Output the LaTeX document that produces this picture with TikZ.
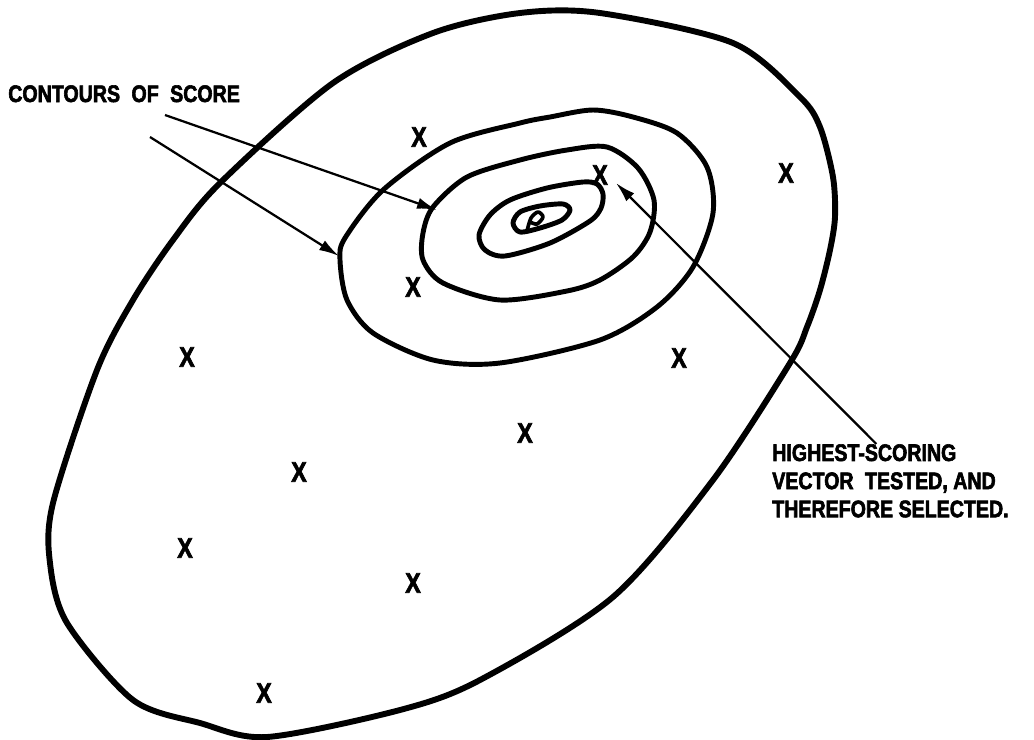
\documentclass[tikz,border=0pt]{standalone}
\usepackage{fontspec}
\newfontfamily\lettering[FakeStretch=0.82,FakeBold=2.5]{Liberation Sans}
\newcommand\letterfont{\lettering\bfseries\fontsize{17}{20}\selectfont}
\newcommand\gap{\hspace{0.25em}}
\usetikzlibrary{arrows.meta}

\begin{document}
\begin{tikzpicture}[
  x=0.025cm, y=-0.025cm,
  rim/.style={line width=4.2pt, line join=round},
  contour/.style={line width=3.5pt, line join=round},
  arr/.style={-{Latex[length=5mm,width=2.8mm]}, line width=1.6pt},
  every node/.style={inner sep=0pt, font=\letterfont},
  pt/.style={font=\lettering\bfseries\fontsize{20}{22}\selectfont}
]
\useasboundingbox (0,0) rectangle (1034,739);

\draw[rim] plot[smooth cycle] coordinates {
  (520,13) (600,13) (733,43) (800,97) (820,127) (833,177) (835,217) (830,250)
  (820,290) (807,327) (790,363) (713,480) (613,597) (480,680) (400,710)
  (267,737) (200,723) (133,700) (67,623) (50,563) (53,503) (97,370)
  (133,300) (173,240) (220,183) (333,83) (433,33)};

\draw[contour] plot[smooth cycle] coordinates {
  (520,123) (550,117) (593,110) (633,117) (677,133) (707,167) (713,213)
  (693,267) (657,307) (600,340) (500,363) (433,360) (373,333) (347,300)
  (340,260) (345,238) (383,190) (450,143)};

\draw[contour] plot[smooth cycle] coordinates {
  (520,160) (567,150) (607,147) (638,168) (654,200) (650,232) (633,257)
  (600,280) (567,291) (500,300) (443,283) (423,260) (423,233) (433,207) (467,177)};

\draw[contour] plot[smooth cycle] coordinates {
  (479,235) (490,215) (510,200) (547,188) (583,182) (597,184) (603,194)
  (601,208) (590,221) (550,243) (505,256) (485,250)};

\draw[contour] plot[smooth cycle] coordinates {
  (513,223) (520,212) (540,206) (563,204) (570,210) (562,220) (540,228) (520,232)};

\draw[contour, line width=2.6pt] plot[smooth] coordinates {
  (527,231) (531,218) (538,212) (543,217) (537,224) (530,222)};

\node (contours) [anchor=base west] at (8,102) {CONTOURS\gap{} OF\gap{} SCORE};
\node (highest) [anchor=north west, align=left] at (772,444)
  {HIGHEST-SCORING\\VECTOR\gap{} TESTED, AND\\THEREFORE SELECTED.};

\node[pt] (best) at (600,175) {X};
\node[pt] (xa) at (419,137) {X};
\node[pt] (xb) at (413,287) {X};
\node[pt] (xc) at (786,173) {X};
\node[pt] (xd) at (187,357) {X};
\node[pt] (xe) at (679,358) {X};
\node[pt] (xf) at (525,433) {X};
\node[pt] (xg) at (299,472) {X};
\node[pt] (xh) at (185,548) {X};
\node[pt] (xi) at (413,583) {X};
\node[pt] (xj) at (264,693) {X};

\coordinate (startA) at (165,115);
\coordinate (tipA) at (437,210);
\coordinate (startB) at (150,137);
\coordinate (tipB) at (339,256);
\coordinate (tipC) at (616,183);

\draw[arr] (startA) -- (tipA);
\draw[arr] (startB) -- (tipB);
\draw[arr] ([xshift=-10]highest.north) -- (tipC);
\end{tikzpicture}
\end{document}
